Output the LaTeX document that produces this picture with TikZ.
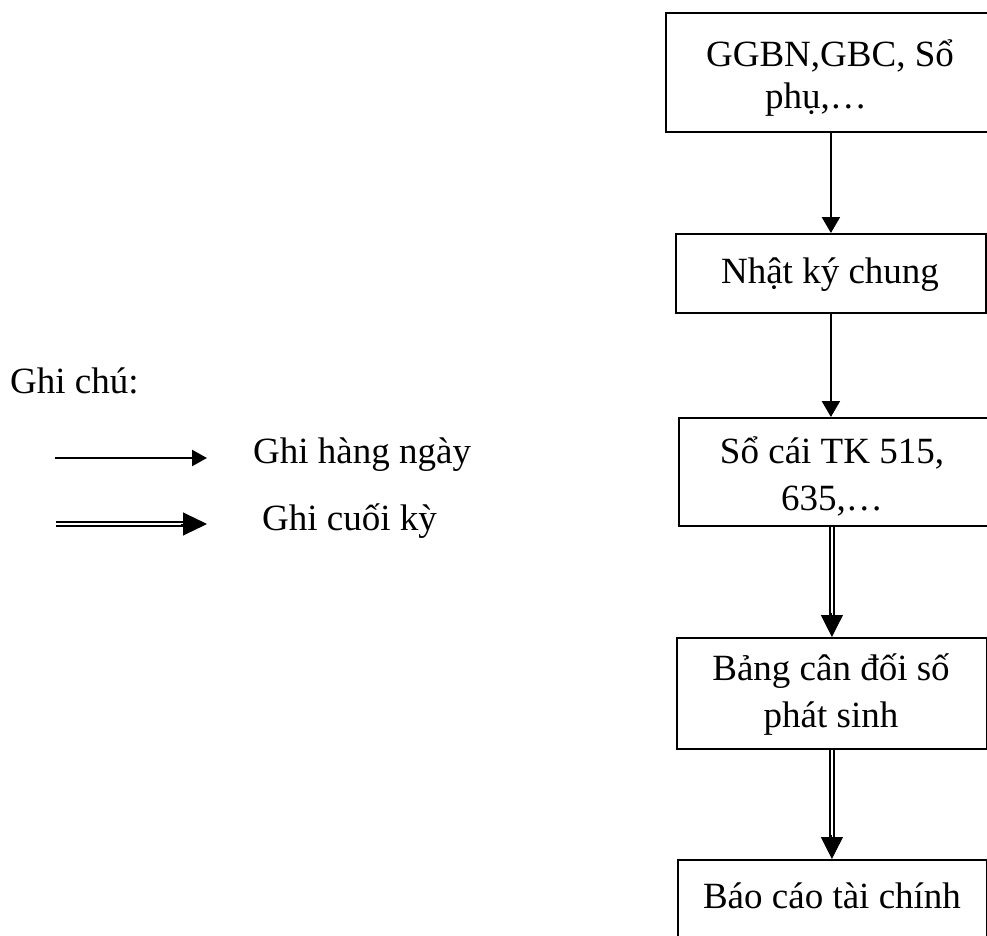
\documentclass[tikz,border=0pt]{standalone}
\usepackage{fontspec}
\setmainfont{Liberation Serif}
\usetikzlibrary{arrows.meta}
\begin{document}
\begin{tikzpicture}[x=1pt,y=-1pt,
  box/.style={draw, line width=1.8pt, inner sep=0pt, anchor=north west},
  lbl/.style={anchor=base, inner sep=0pt, font=\fontsize{37}{42}\selectfont},
  daily/.style={line width=2.3pt, -{Triangle[length=16pt,width=18pt]}},
  legdaily/.style={line width=2.3pt, -{Triangle[length=15pt,width=16pt]}},
  shaft/.style={double, double distance=2.6pt, line width=1.8pt},
  endtip/.style={line width=1pt, -{Triangle[length=22pt,width=22pt]}},
  legendtip/.style={line width=1pt, -{Triangle[length=24pt,width=23pt]}}]
\useasboundingbox (0,0) rectangle (987,936);

% flow boxes
\node[box, minimum width=340pt, minimum height=119pt] (b1) at (665,12) {};
\node[box, minimum width=310pt, minimum height=79pt]  (b2) at (675,233) {};
\node[box, minimum width=330pt, minimum height=108pt] (b3) at (678,417) {};
\node[box, minimum width=310pt, minimum height=111pt] (b4) at (676,637) {};
\node[box, minimum width=309pt, minimum height=120pt] (b5) at (677,859) {};

% box texts
\node[lbl] (t1a) at (830,67)  {GGBN,GBC, Sổ};
\node[lbl] (t1b) at (816,109) {phụ,…};
\node[lbl] (t2)  at (830,283) {Nhật ký chung};
\node[lbl] (t3a) at (832,463) {Sổ cái TK 515,};
\node[lbl] (t3b) at (832,510) {635,…};
\node[lbl] (t4a) at (831,680) {Bảng cân đối số};
\node[lbl] (t4b) at (831,727) {phát sinh};
\node[lbl] (t5)  at (832,908) {Báo cáo tài chính};

% daily postings
\draw[daily] (b2.north |- b1.south) -- (b2.north);
\draw[daily] (b2.south) -- (b2.south |- b3.north);

% period-end postings
\draw[shaft, shorten >=20pt] (b4.north |- b3.south) -- (b4.north);
\draw[endtip] ([yshift=24pt]b4.north) -- (b4.north);
\draw[shaft, shorten >=20pt] (b4.south) -- (b4.south |- b5.north);
\coordinate (b5top) at (b4.south |- b5.north);
\draw[endtip] ([yshift=24pt]b5top) -- (b5top);

% legend
\node[lbl, anchor=base west] (note) at (10,393) {Ghi chú:};
\coordinate (l1s) at (55,458);
\coordinate (l1e) at (207,458);
\draw[legdaily] (l1s) -- (l1e);
\node[lbl, anchor=base west] (l1t) at (253,463) {Ghi hàng ngày};
\coordinate (l2s) at (56,524);
\coordinate (l2e) at (207,524);
\draw[shaft, shorten >=22pt] (l2s) -- (l2e);
\draw[legendtip] ([xshift=-26pt]l2e) -- (l2e);
\node[lbl, anchor=base west] (l2t) at (262,530) {Ghi cuối kỳ};
\end{tikzpicture}
\end{document}
